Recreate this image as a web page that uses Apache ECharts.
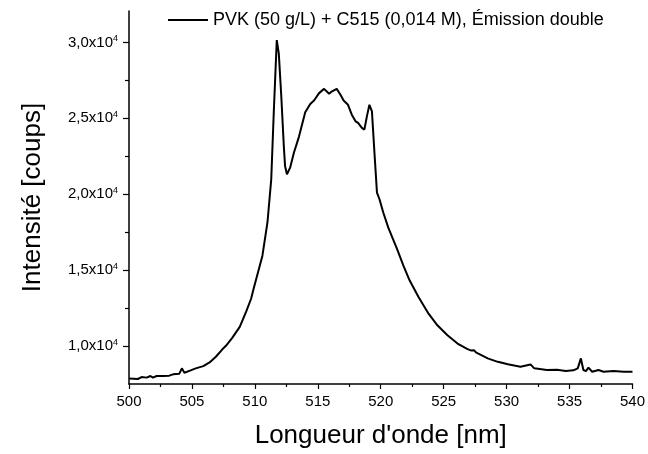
<!DOCTYPE html>
<html>
<head>
<meta charset="utf-8">
<script src="https://cdn.jsdelivr.net/npm/echarts@6/dist/echarts.min.js"></script>
<style>
  html, body { margin: 0; padding: 0; background: #fff; }
  #fig { width: 648px; height: 454px; }
</style>
</head>
<body>
<div id="fig"></div>
<script>
// longueur d'onde (nm) et intensité (coups)
const wavelength = [
  500.0, 500.7, 501.0, 501.4, 501.7, 501.9, 502.2, 502.7, 503.2, 503.5,
  504.0, 504.2, 504.4, 504.9, 505.3, 505.9, 506.4, 506.9, 507.4, 507.7,
  508.2, 508.8, 509.3, 509.7, 509.9, 510.6, 511.0, 511.3, 511.5, 511.74,
  511.9, 512.1, 512.3, 512.4, 512.55, 512.8, 513.1, 513.5, 514.0, 514.4,
  514.7, 515.1, 515.5, 515.9, 516.1, 516.5, 516.8, 517.05, 517.4, 517.7,
  518.0, 518.2, 518.5, 518.7, 518.9, 519.1, 519.3, 519.5, 519.7, 519.9,
  520.2, 520.6, 521.3, 521.8, 522.3, 523.0, 523.8, 524.5, 525.3, 526.1,
  526.9, 527.2, 527.4, 527.6, 528.5, 529.3, 530.1, 531.1, 531.9, 532.2,
  533.2, 534.0, 534.7, 535.3, 535.65, 535.9, 536.1, 536.3, 536.5, 536.8,
  537.3, 537.7, 538.5, 539.3, 540.0
];
const intensity = [
  7870, 7830, 7960, 7920, 8025, 7920, 8025, 8030, 8050, 8135,
  8180, 8530, 8245, 8400, 8530, 8680, 8920, 9295, 9770, 10015,
  10540, 11260, 12245, 13115, 13770, 15950, 18140, 20980, 25350, 30150,
  29280, 26440, 23160, 21850, 21310, 21750, 22730, 23780, 25400, 25940,
  26175, 26660, 26940, 26615, 26765, 26940, 26550, 26175, 25890, 25240,
  24800, 24695, 24370, 24255, 25130, 25890, 25455, 22730, 20110, 19670,
  18800, 17800, 16390, 15300, 14315, 13225, 12130, 11365, 10710, 10165,
  9795, 9700, 9730, 9560, 9190, 8960, 8800, 8640, 8790, 8530,
  8420, 8445, 8350, 8400, 8530, 9185, 8420, 8350, 8575, 8310,
  8420, 8310, 8350, 8310, 8310
];
const yMajorTicks = [10000, 15000, 20000, 25000, 30000];
const yMinorTicks = [12500, 17500, 22500, 27500];
const seriesName = "PVK (50 g/L) + C515 (0,014 M), Émission double";

const font = '"Liberation Sans", Arial, sans-serif';
const data = wavelength.map((w, i) => [w, intensity[i]]);

var chart = echarts.init(document.getElementById('fig'));
chart.setOption({
  animation: false,
  textStyle: { fontFamily: font, color: '#000' },
  grid: { left: 129, right: 11, top: 11, bottom: 68, containLabel: false },
  legend: {
    left: 163, top: 6,
    icon: 'rect', itemWidth: 40, itemHeight: 2,
    textStyle: { fontFamily: font, fontSize: 18, color: '#000' },
    data: [seriesName]
  },
  xAxis: {
    type: 'value', min: 500, max: 540, interval: 5,
    name: "Longueur d'onde [nm]", nameLocation: 'middle', nameGap: 39,
    nameTextStyle: { fontFamily: font, fontSize: 26, color: '#000' },
    axisLine: { lineStyle: { color: '#000', width: 1.5 } },
    axisTick: { length: 5, lineStyle: { color: '#000', width: 1.2 } },
    minorTick: { show: true, splitNumber: 2, length: 3, lineStyle: { color: '#000', width: 1.2 } },
    axisLabel: { fontFamily: font, fontSize: 15, color: '#000', margin: 10 },
    splitLine: { show: false }
  },
  yAxis: [{
    type: 'value', min: 7500, max: 32070, position: 'left',
    name: 'Intensité [coups]', nameLocation: 'middle', nameGap: 83,
    nameTextStyle: { fontFamily: font, fontSize: 26, color: '#000' },
    axisLine: { show: true, lineStyle: { color: '#000', width: 1.5 } },
    axisTick: { show: true, length: 6, customValues: yMajorTicks, lineStyle: { color: '#000', width: 1.2 } },
    axisLabel: {
      margin: 11, customValues: yMajorTicks,
      formatter: v => '{b|' + (v / 10000).toFixed(1).replace('.', ',') + 'x10}{s|4}',
      rich: {
        b: { fontFamily: font, fontSize: 15, color: '#000' },
        s: { fontFamily: font, fontSize: 9, color: '#000', verticalAlign: 'top', padding: [0, 0, 8, 0] }
      }
    },
    splitLine: { show: false }
  }, {
    type: 'value', min: 7500, max: 32070, position: 'left', offset: 0,
    axisLine: { show: false },
    axisTick: { show: true, length: 4, customValues: yMinorTicks, lineStyle: { color: '#000', width: 1.2 } },
    axisLabel: { show: false },
    splitLine: { show: false }
  }],
  series: [{
    name: seriesName,
    type: 'line',
    yAxisIndex: 0,
    data: data,
    showSymbol: false,
    symbol: 'none',
    lineStyle: { color: '#000', width: 2 },
    itemStyle: { color: '#000' }
  }]
});
</script>
</body>
</html>
